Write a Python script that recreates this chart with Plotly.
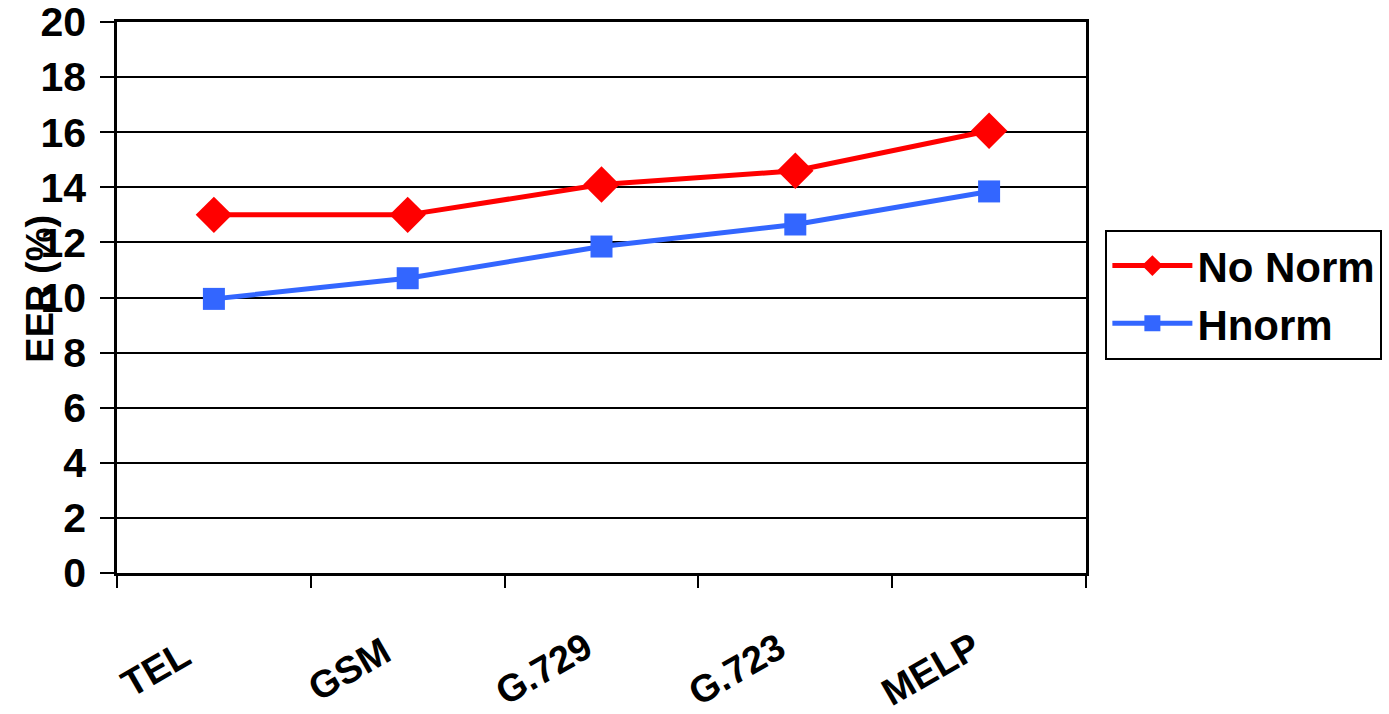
import plotly.graph_objects as go

# Codec conditions and EER values (%)
codecs = ["TEL", "GSM", "G.729", "G.723", "MELP"]
no_norm = [13.0, 13.0, 14.1, 14.6, 16.05]
hnorm = [9.95, 10.7, 11.85, 12.65, 13.85]
y_ticks = [0, 2, 4, 6, 8, 10, 12, 14, 16, 18, 20]

FONT = "Liberation Sans, Arial, sans-serif"

fig = go.Figure()
fig.add_trace(go.Scatter(
    x=codecs, y=no_norm, name="No Norm", mode="lines+markers",
    line=dict(color="#FF0000", width=5),
    marker=dict(symbol="diamond", size=28, color="#FF0000"),
))
fig.add_trace(go.Scatter(
    x=codecs, y=hnorm, name="Hnorm", mode="lines+markers",
    line=dict(color="#3366FF", width=5),
    marker=dict(symbol="square", size=22, color="#3366FF"),
))

W, H = 1389, 714
L, R, T, B = 117, 303, 22, 141
PH = H - T - B

fig.update_layout(
    width=W, height=H,
    margin=dict(l=L, r=R, t=T, b=B, autoexpand=False),
    paper_bgcolor="white", plot_bgcolor="white",
    font=dict(family=FONT, color="black", size=30, weight="bold"),
    showlegend=True,
    legend=dict(
        x=1.02, xanchor="left", y=0.505, yanchor="middle",
        bordercolor="black", borderwidth=2, bgcolor="white",
        font=dict(family=FONT, size=42, color="black", weight="bold"),
        itemwidth=80, tracegroupgap=10,
    ),
)

fig.update_xaxes(
    type="category", range=[-0.5, 4.5],
    tickson="boundaries", ticks="outside", ticklen=12, tickwidth=2, tickcolor="black",
    showline=True, linecolor="black", linewidth=2.5, mirror=True,
    showgrid=False, zeroline=False, showticklabels=False,
)
fig.update_yaxes(
    range=[0, 20], tickvals=y_ticks,
    ticks="outside", ticklen=14, tickwidth=2, tickcolor="black",
    showline=True, linecolor="black", linewidth=2.5, mirror=True,
    showgrid=True, gridcolor="black", gridwidth=2, zeroline=False,
    tickfont=dict(family=FONT, size=41, color="black", weight="bold"),
    ticklabelstandoff=6, ticklabeloverflow="allow",
)

# Slanted category labels under the axis
for c in codecs:
    fig.add_annotation(
        text=c, x=c, xref="x", y=(T + PH - 669) / PH, yref="paper",
        xshift=-58, textangle=-30, showarrow=False,
        xanchor="center", yanchor="middle",
        font=dict(family=FONT, size=38, color="black", weight="bold"),
    )

fig.add_annotation(
    text="EER (%)", textangle=-90, showarrow=False,
    xref="paper", yref="paper",
    x=(40 - L) / (W - L - R), y=0.516, xanchor="center", yanchor="middle",
    font=dict(family=FONT, size=38, color="black", weight="bold"),
)

fig.write_html("out.html")
